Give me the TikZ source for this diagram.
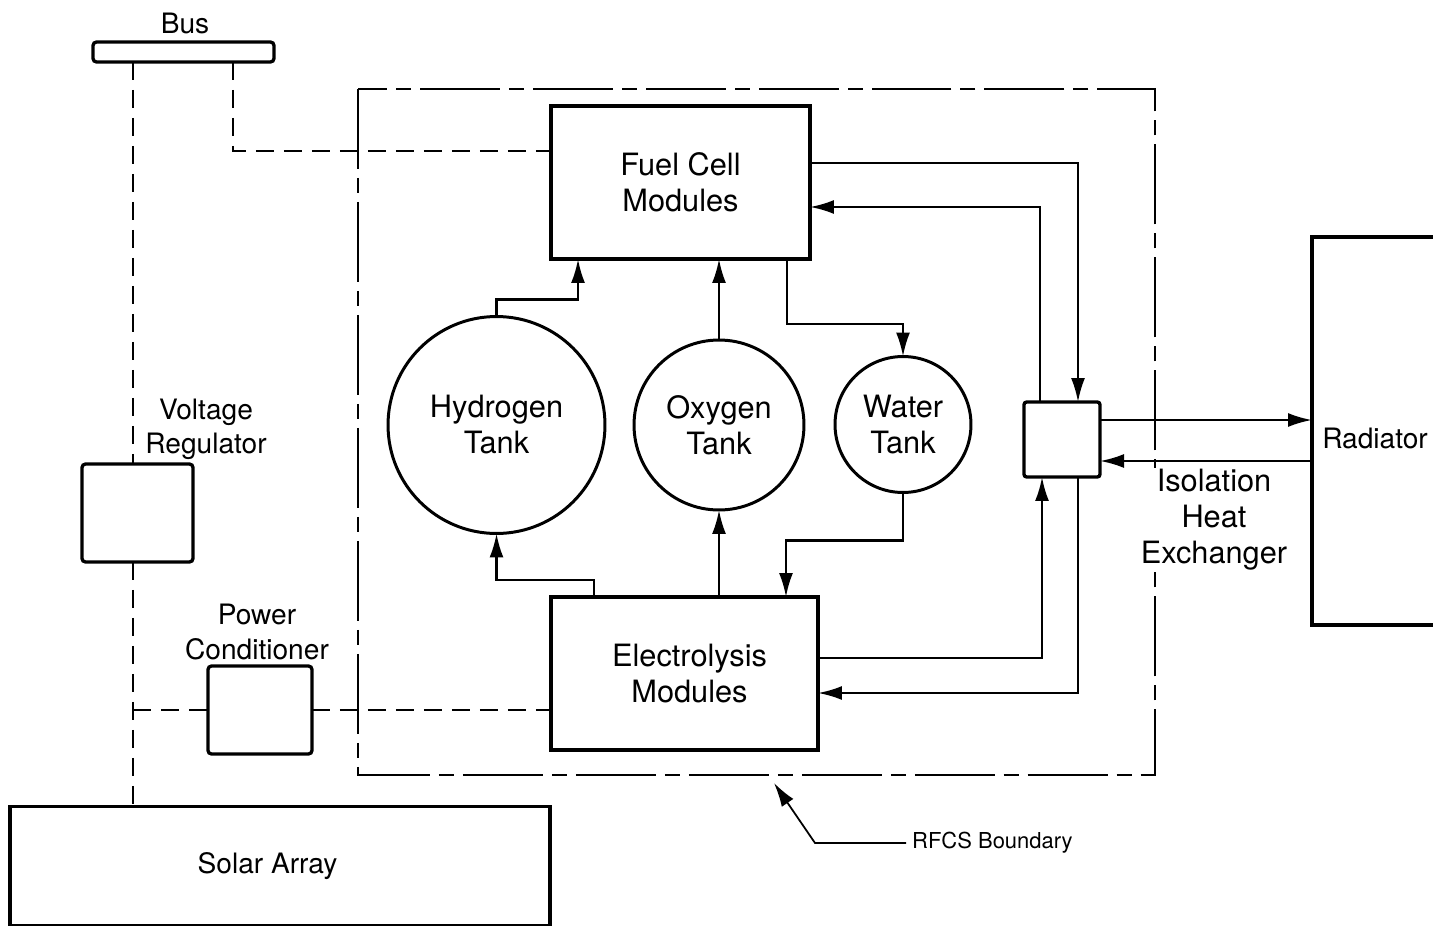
\documentclass[tikz,border=0pt]{standalone}
\usepackage{fontspec}
\setmainfont{TeX Gyre Heros}
\usetikzlibrary{arrows.meta}
\begin{document}
\begin{tikzpicture}[x=0.02cm,y=-0.02cm,
  box/.style={draw,line width=1.9pt,inner sep=0pt,outer sep=0pt,fill=white},
  tank/.style={draw,circle,line width=1.7pt,inner sep=0pt,outer sep=0pt,align=center,font=\fontsize{17.5}{20.5}\selectfont},
  big/.style={align=center,font=\fontsize{17.5}{20.5}\selectfont},
  lbl/.style={align=center,font=\fontsize{16}{19.5}\selectfont},
  flow/.style={line width=1.4pt,-{Latex[length=0.48cm,width=0.28cm]}},
  power/.style={line width=1.6pt,dash pattern=on 0.36cm off 0.2cm},
  bound/.style={line width=0.9pt,dash pattern=on 1.6cm off 0.18cm on 0.3cm off 0.18cm}]
\useasboundingbox (0,0) rectangle (1433,926);
% RFCS boundary
\draw[bound] (358,89) rectangle (1155,775);
% boxes
\node[box,rounded corners=2pt,minimum width=3.62cm,minimum height=0.4cm] (bus) at (183.5,52) {};
\node[lbl] (buslbl) at (185,23) {Bus};
\node[box,rounded corners=2pt,minimum width=2.22cm,minimum height=1.96cm] (vr) at (137.5,513) {};
\node[lbl] (vrlbl) at (206,429) {Voltage\\Regulator};
\node[box,rounded corners=2pt,minimum width=2.08cm,minimum height=1.76cm] (pc) at (260,710) {};
\node[lbl] (pclbl) at (257,632) {Power\\Conditioner};
\node[box,minimum width=10.8cm,minimum height=2.38cm,lbl] (sa) at (280,866) {\hspace{-0.5cm}Solar Array};
\node[box,minimum width=5.18cm,minimum height=3.06cm,big] (fc) at (680.5,182.5) {Fuel Cell\\Modules};
\node[box,minimum width=5.34cm,minimum height=3.06cm,big] (el) at (684.5,673.5) {\hspace{0.2cm}Electrolysis\\\hspace{0.2cm}Modules};
\node[tank,minimum size=4.34cm] (h2) at (496.5,425) {Hydrogen\\Tank};
\node[tank,minimum size=3.4cm] (o2) at (719,425) {Oxygen\\Tank};
\node[tank,minimum size=2.72cm] (wt) at (903,424.5) {Water\\Tank};
\node[box,rounded corners=1.5pt,minimum width=1.52cm,minimum height=1.5cm] (hx) at (1062,439.5) {};
\node[box,minimum width=2.96cm,minimum height=7.76cm] (rad) at (1386,431) {};
\node[lbl] (radlbl) at (1375,438) {Radiator};
\node[big,fill=white,inner sep=1pt] (hxlbl) at (1214,520) {Isolation\\Heat\\Exchanger};
\node[font=\fontsize{12.5}{15}\selectfont,anchor=west] (rfcs) at (906,843) {RFCS Boundary};
\coordinate (rknee) at (815,843);
\coordinate (rtip) at (774,783);
% power lines
\coordinate (b1) at ([xshift=0.8cm]bus.south west);
\coordinate (b2) at ([xshift=2.8cm]bus.south west);
\draw[power] (b1) -- (b1 |- vr.north);
\draw[power] (b1 |- vr.south) -- (b1 |- sa.north);
\draw[power] (b1 |- pc.west) -- (pc.west);
\draw[power] (pc.east) -- (pc.east -| el.west);
\draw[power] (b2) |- ([yshift=-0.9cm]fc.north west);
% fluid connectors
\draw[flow] (h2.north) -- ++(0,-17) -| ([xshift=0.54cm]fc.south west);
\draw[flow] (o2.north) -- (o2.north |- fc.south);
\draw[flow] ([xshift=4.72cm]fc.south west) -- ++(0,65) -| (wt.north);
\draw[flow] ([yshift=-1.14cm]fc.north east) -| ([xshift=-0.44cm]hx.north east);
\draw[flow] ([xshift=0.32cm]hx.north west) |- ([yshift=-2.02cm]fc.north east);
\coordinate (t1) at ([yshift=-0.36cm]hx.north east);
\coordinate (t2) at ([yshift=-1.18cm]hx.north east);
\draw[flow] (t1) -- (t1 -| rad.west);
\draw[flow] (t2 -| rad.west) -- (t2);
\draw[flow] ([yshift=-1.22cm]el.north east) -| ([xshift=0.36cm]hx.south west);
\draw[flow] ([xshift=-0.44cm]hx.south east) |- ([yshift=-1.92cm]el.north east);
\draw[flow] ([xshift=0.86cm]el.north west) -- ++(0,-17) -| (h2.south);
\draw[flow] (o2.south |- el.north) -- (o2.south);
\draw[flow] (wt.south) -- ++(0,48) -| ([xshift=4.7cm]el.north west);
% boundary pointer
\draw[line width=1pt,-{Latex[length=0.48cm,width=0.28cm]}] (rfcs.west) -- (rknee) -- (rtip);
\end{tikzpicture}
\end{document}
